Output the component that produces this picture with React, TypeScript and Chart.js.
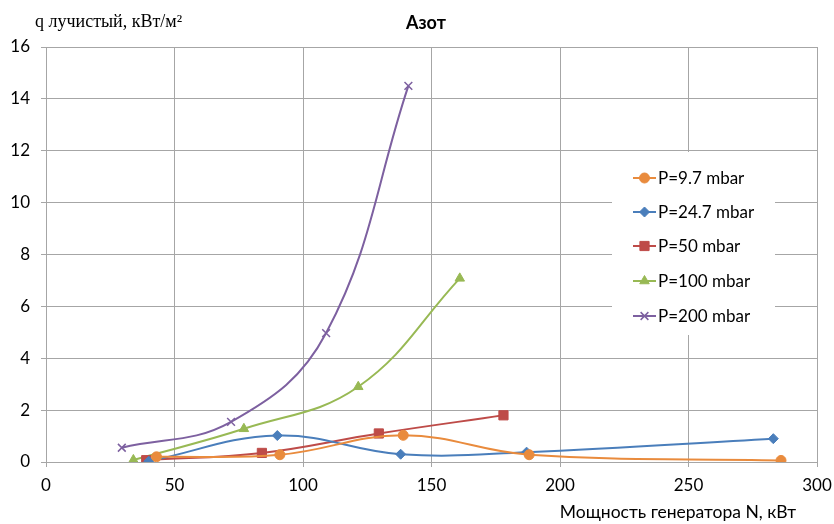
import React, { useEffect, useRef } from "react";
import { Chart, registerables } from "chart.js";
import { drawPoint } from "chart.js/helpers";

Chart.register(...registerables);

const TITLE = "Азот";
const Y_TITLE = "q лучистый, кВт/м²";
const X_TITLE = "Мощность генератора N, кВт";

const seriesLabels = ["P=9.7 mbar", "P=24.7 mbar", "P=50 mbar", "P=100 mbar", "P=200 mbar"];

const x97 = [43, 91, 139, 188, 286];
const y97 = [0.2, 0.28, 1.03, 0.28, 0.06];

const x247 = [40, 90, 138, 187, 283];
const y247 = [0.03, 1.02, 0.3, 0.38, 0.9];

const x50 = [39, 84, 129.5, 178];
const y50 = [0.07, 0.35, 1.1, 1.8];

const x100 = [34, 77, 121.5, 161];
const y100 = [0.08, 1.28, 2.9, 7.08];

const x200 = [29.5, 72, 109, 141];
const y200 = [0.55, 1.55, 4.97, 14.5];

const xTicks = [0, 50, 100, 150, 200, 250, 300];
const yTicks = [0, 2, 4, 6, 8, 10, 12, 14, 16];

const colors = ["#E98B3D", "#4A7EBB", "#BE4B48", "#98B954", "#7D60A0"];
const markers = ["circle", "rectRot", "rect", "triangle", "crossRot"];
const radii = [5, 5, 6.5, 5.5, 5.5];

const FONT = "Lato, 'Open Sans', sans-serif";

function pts(xs: number[], ys: number[]) {
  return xs.map((x, i) => ({ x, y: ys[i] }));
}

const legendPlugin = {
  id: "customLegend",
  afterDatasetsDraw(chart: any) {
    const ctx = chart.ctx;
    ctx.save();
    ctx.fillStyle = "#ffffff";
    ctx.fillRect(612, 152, 163, 183);
    const ys = [178, 212, 246, 281, 316];
    chart.data.datasets.forEach((ds: any, i: number) => {
      const y = ys[i];
      ctx.strokeStyle = ds.borderColor;
      ctx.lineWidth = 2;
      ctx.beginPath();
      ctx.moveTo(633, y);
      ctx.lineTo(656, y);
      ctx.stroke();
      ctx.fillStyle = ds.borderColor;
      ctx.lineWidth = ds.pointBorderWidth;
      drawPoint(ctx, { pointStyle: ds.pointStyle, radius: ds.pointRadius, borderWidth: ds.pointBorderWidth, rotation: 0 } as any, 644.5, y);
      ctx.fillStyle = "#000";
      ctx.font = `17px ${FONT}`;
      ctx.textBaseline = "middle";
      ctx.textAlign = "left";
      ctx.fillText(ds.label, 658, y + 1);
    });
    ctx.restore();
  },
};

const textPlugin = {
  id: "texts",
  afterDraw(chart: any) {
    const ctx = chart.ctx;
    ctx.save();
    ctx.fillStyle = "#000";
    ctx.textBaseline = "alphabetic";
    ctx.font = `bold 18px ${FONT}`;
    ctx.textAlign = "center";
    ctx.fillText(TITLE, 426, 29);
    ctx.font = `18px 'Liberation Serif', 'DejaVu Serif', serif`;
    ctx.textAlign = "left";
    ctx.fillText(Y_TITLE, 35, 27);
    ctx.font = `17.5px ${FONT}`;
    ctx.textAlign = "center";
    ctx.fillText(X_TITLE, 678, 518);
    ctx.restore();
  },
};

export default function App() {
  const ref = useRef<HTMLCanvasElement | null>(null);
  useEffect(() => {
    document.body.style.margin = "0";
    const canvas = ref.current!;
    const ctx = canvas.getContext("2d")!;
    const data = [pts(x97, y97), pts(x247, y247), pts(x50, y50), pts(x100, y100), pts(x200, y200)];
    const chart = new Chart(ctx, {
      type: "scatter",
      data: {
        datasets: data.map((d, i) => ({
          label: seriesLabels[i],
          data: d,
          showLine: true,
          borderColor: colors[i],
          backgroundColor: colors[i],
          pointBackgroundColor: colors[i],
          pointBorderColor: colors[i],
          borderWidth: 2,
          pointStyle: markers[i] as any,
          pointRadius: radii[i],
          pointBorderWidth: i === 4 ? 1.5 : 1,
          tension: 0.4,
        })),
      },
      options: {
        animation: false,
        responsive: false,
        events: [],
        layout: { padding: { top: 47, right: 17, left: 0, bottom: 0 } },
        plugins: { legend: { display: false }, tooltip: { enabled: false }, title: { display: false } },
        scales: {
          x: {
            type: "linear",
            min: 0,
            max: 300,
            afterBuildTicks: (s: any) => {
              s.ticks = xTicks.map((v) => ({ value: v }));
            },
            afterFit: (s: any) => {
              s.height = 62;
              s.paddingLeft = 0;
              s.paddingRight = 0;
            },
            grid: { color: "#A6A6A6", lineWidth: 1, tickLength: 5, drawTicks: true },
            border: { color: "#A6A6A6" },
            ticks: { color: "#000", font: { family: FONT, size: 17 }, padding: 8, maxRotation: 0 },
          },
          y: {
            type: "linear",
            min: 0,
            max: 16,
            afterBuildTicks: (s: any) => {
              s.ticks = yTicks.map((v) => ({ value: v }));
            },
            afterFit: (s: any) => {
              s.width = 46;
              s.paddingTop = 0;
              s.paddingBottom = 0;
            },
            grid: { color: "#A6A6A6", lineWidth: 1, tickLength: 5, drawTicks: true },
            border: { color: "#A6A6A6" },
            ticks: { color: "#000", font: { family: FONT, size: 17 }, padding: 11 },
          },
        },
      },
      plugins: [legendPlugin, textPlugin],
    });
    return () => chart.destroy();
  }, []);
  return (
    <div style={{ width: 834, height: 524, background: "#fff" }}>
      <canvas ref={ref} width={834} height={524} style={{ display: "block" }} />
    </div>
  );
}
